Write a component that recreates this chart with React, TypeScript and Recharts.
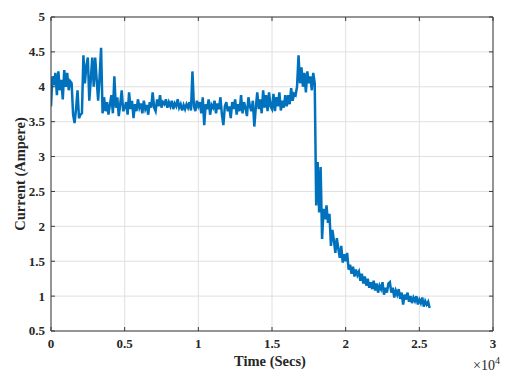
import React from "react";
import {
  LineChart,
  Line,
  XAxis,
  YAxis,
  CartesianGrid,
} from "recharts";

// one reading every 100 s, starting at t = 0
const sampleStep = 100;

// current readings (A), ten per row = 1000 s per row
const current = [
  3.72, 4.15, 4.02, 4.2, 3.88, 4.22, 3.95, 4.1, 3.82, 4.24,
  4.0, 4.2, 3.95, 4.08, 4.05, 3.6, 3.48, 3.68, 3.95, 3.55,
  3.6, 3.62, 4.45, 4.05, 4.3, 4.42, 3.8, 4.1, 4.42, 4.0,
  4.42, 4.1, 3.8, 4.15, 4.56, 3.62, 3.85, 3.65, 3.78, 3.6,
  3.75, 3.88, 3.62, 4.15, 3.7, 3.85, 3.58, 3.75, 3.95, 3.65,
  3.7, 3.78, 3.6, 3.92, 3.68, 3.8, 3.55, 3.75, 3.65, 3.82,
  3.7, 3.76, 3.62, 3.8, 3.68, 3.74, 3.6, 3.78, 3.7, 3.92,
  3.7, 3.65, 3.82, 3.72, 3.88, 3.7, 3.78, 3.75, 3.82, 3.7,
  3.78, 3.72, 3.8, 3.68, 3.76, 3.72, 3.82, 3.7, 3.75, 3.66,
  3.74, 3.68, 3.75, 3.7, 3.78, 3.66, 4.22, 3.72, 3.65, 3.8,
  3.72, 3.78, 3.62, 3.85, 3.45, 3.75, 3.68, 3.82, 3.6, 3.74,
  3.7, 3.8, 3.62, 3.76, 3.68, 3.85, 3.6, 3.45, 3.72, 3.78,
  3.65, 3.72, 3.55, 3.78, 3.68, 3.82, 3.6, 3.75, 3.65, 3.88,
  3.62, 3.78, 3.7, 3.58, 3.85, 3.72, 3.65, 3.8, 3.43, 3.7,
  3.92, 3.68, 3.82, 3.62, 3.95, 3.7, 3.88, 3.65, 3.92, 3.72,
  3.68, 3.9, 3.65, 3.85, 3.72, 3.92, 3.66, 3.8, 3.7, 3.88,
  3.72, 3.88, 3.75, 3.98, 3.8, 3.9, 3.88, 4.0, 4.45, 4.05,
  4.28, 4.0, 4.2, 3.92, 4.22, 4.05, 4.15, 3.95, 4.2, 4.05,
  2.3, 2.92, 2.2, 2.85, 1.82, 2.25, 2.1, 2.3, 2.05, 2.18,
  1.72, 1.95, 1.8, 1.62, 1.83, 1.68, 1.55, 1.72, 1.48, 1.6,
  1.5, 1.62, 1.38, 1.45, 1.32, 1.42, 1.28, 1.38, 1.3, 1.35,
  1.22, 1.32, 1.18, 1.28, 1.15, 1.25, 1.12, 1.2, 1.1, 1.22,
  1.08, 1.18, 1.05, 1.15, 1.1, 1.2, 1.02, 1.12, 1.05, 1.18,
  1.2, 1.05, 1.12, 0.98, 1.08, 1.02, 1.1, 0.96, 1.05, 0.88,
  1.02, 0.95, 1.05, 0.92, 1.0, 0.9, 0.98, 0.93, 1.0, 0.88,
  0.95, 0.9, 0.98, 0.85, 0.93, 0.88, 0.92, 0.83,
];

const xTicks = [0, 5000, 10000, 15000, 20000, 25000, 30000];
const yTicks = [0.5, 1, 1.5, 2, 2.5, 3, 3.5, 4, 4.5, 5];

const data = current.map((v, i) => ({ t: i * sampleStep, amp: v }));

const FONT = "'Liberation Serif', 'Times New Roman', serif";
const AXIS = "#3a3a3a";
const INK = "#262626";
const tickText = { fontFamily: FONT, fontSize: 13, fontWeight: 700, fill: INK };

const NoTick = () => <g />;

const YTick = (props: any) => {
  const { x, y, payload } = props;
  return (
    <text x={x} y={y} dy="0.34em" textAnchor="end" style={tickText}>
      {payload.value}
    </text>
  );
};

const XTick = (props: any) => {
  const { x, y, payload } = props;
  return (
    <text x={x} y={y} dy="0.71em" textAnchor="middle" style={tickText}>
      {payload.value / 10000}
    </text>
  );
};

const YTitle = (props: any) => {
  const { x, y, height, width } = props.viewBox;
  const cx = x + width - 29;
  const cy = y + height / 2;
  return (
    <text
      x={cx}
      y={cy}
      transform={`rotate(-90 ${cx} ${cy})`}
      textAnchor="middle"
      dominantBaseline="middle"
      style={{ fontFamily: FONT, fontSize: 14.5, fontWeight: 700, fill: INK }}
    >
      Current (Ampere)
    </text>
  );
};

const XTitle = (props: any) => {
  const { x, y, width } = props.viewBox;
  return (
    <g style={{ fontFamily: FONT, fill: INK }}>
      <text x={x + width / 2 - 2} y={y + 35} textAnchor="middle" fontSize={14.5} fontWeight={700}>
        Time (Secs)
      </text>
      <text x={x + width + 7} y={y + 39} textAnchor="end" fontSize={14}>
        ×10<tspan dy={-6} fontSize={10}>4</tspan>
      </text>
    </g>
  );
};

export default function App() {
  return (
    <div style={{ position: "absolute", left: 0, top: 0, background: "#fff", fontFamily: FONT }}>
      <LineChart
        width={518}
        height={378}
        data={data}
        margin={{ top: 16, right: 24, bottom: 46, left: 50 }}
      >
        <CartesianGrid stroke="#e0e0e0" strokeWidth={1} />
        <XAxis
          dataKey="t"
          type="number"
          domain={[0, 30000]}
          ticks={xTicks}
          allowDataOverflow
          height={1}
          tick={<XTick />}
          tickSize={-4}
          tickMargin={12}
          stroke={AXIS}
          label={<XTitle />}
        />
        <XAxis
          xAxisId="top"
          orientation="top"
          dataKey="t"
          type="number"
          domain={[0, 30000]}
          ticks={xTicks}
          allowDataOverflow
          height={1}
          tick={<NoTick />}
          tickSize={-4}
          stroke={AXIS}
        />
        <YAxis
          type="number"
          domain={[0.5, 5]}
          ticks={yTicks}
          allowDataOverflow
          width={1}
          tick={<YTick />}
          tickSize={-4}
          tickMargin={10}
          stroke={AXIS}
          label={<YTitle />}
        />
        <YAxis
          yAxisId="right"
          orientation="right"
          type="number"
          domain={[0.5, 5]}
          ticks={yTicks}
          allowDataOverflow
          width={1}
          tick={<NoTick />}
          tickSize={-4}
          stroke={AXIS}
        />
        <Line
          type="linear"
          dataKey="amp"
          stroke="#0072BD"
          strokeWidth={2.5}
          dot={false}
          isAnimationActive={false}
        />
      </LineChart>
    </div>
  );
}
